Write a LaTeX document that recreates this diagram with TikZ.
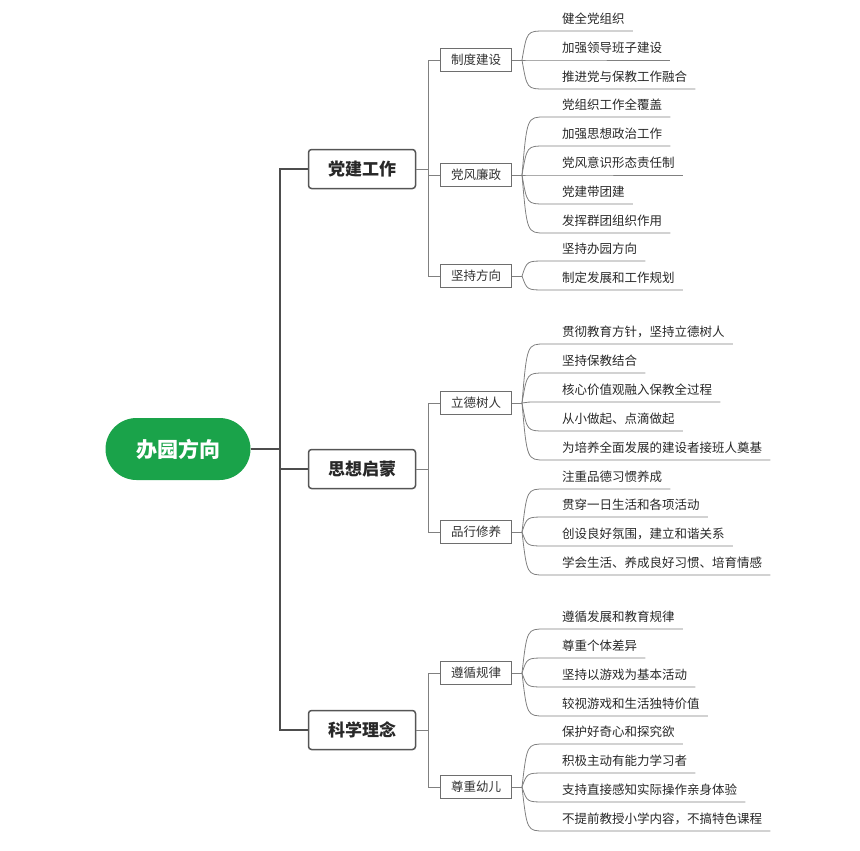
\documentclass[tikz,border=0pt]{standalone}
\usepackage{fontspec}
\setmainfont{Noto Sans CJK SC}
\begin{document}
\begin{tikzpicture}[x=1pt,y=-1pt,
  rootbox/.style={fill=green!60!black!90!cyan!70, fill={rgb,255:red,26;green,163;blue,74}, rounded corners=31pt, minimum width=145pt, minimum height=62pt, text=white, font=\fontsize{21}{24}\selectfont\bfseries},
  lone/.style={draw={rgb,255:red,85;green,85;blue,85}, line width=1.5pt, rounded corners=3pt, fill=white, minimum width=107pt, minimum height=39pt, font=\fontsize{17}{20}\selectfont\bfseries, text={rgb,255:red,40;green,40;blue,40}},
  ltwo/.style={draw={rgb,255:red,110;green,110;blue,110}, line width=0.8pt, fill=white, minimum width=71pt, minimum height=23pt, inner sep=1pt, font=\fontsize{12.5}{14}\selectfont, text={rgb,255:red,50;green,50;blue,50}},
  leaf/.style={anchor=west, inner sep=0pt, font=\fontsize{12.5}{14}\selectfont, text={rgb,255:red,40;green,40;blue,40}},
  thick1/.style={draw={rgb,255:red,77;green,77;blue,77}, line width=2.5pt},
  thin1/.style={draw={rgb,255:red,128;green,128;blue,128}, line width=0.8pt}]
\useasboundingbox (0,0) rectangle (860,851);
\newcommand\leafitem[4]{%
  \node[leaf] (#1) at (562,#3) {#4};
  \coordinate (#1-u) at (0,#3+12);
  \draw[thin1] (522,#2) .. controls (527,#3+12) .. (545,#3+12) -- ([xshift=8pt]#1.east |- #1-u);}
\node[rootbox] (root) at (178,449) {办园方向};
\node[lone] (a) at (362,169) {党建工作};
\node[lone] (b) at (362,469) {思想启蒙};
\node[lone] (c) at (362,730) {科学理念};
\foreach \n in {a,b,c}{\draw[thick1] (root.east) -- (280,449) |- (\n.west);}
\node[ltwo] (a1) at (476,60) {制度建设};
\node[ltwo] (a2) at (476,175) {党风廉政};
\node[ltwo] (a3) at (476,276) {坚持方向};
\node[ltwo] (b1) at (476,403) {立德树人};
\node[ltwo] (b2) at (476,532) {品行修养};
\node[ltwo] (c1) at (476,673) {遵循规律};
\node[ltwo] (c2) at (476,787) {尊重幼儿};
\foreach \p/\k in {a/a1,a/a2,a/a3,b/b1,b/b2,c/c1,c/c2}{
  \draw[thin1] (\p.east) -- (428,0 |- \p.east) |- (\k.west);
  \draw[thin1] (\k.east) -- ++(10,0);}
\leafitem{a11}{60}{19}{健全党组织}
\leafitem{a12}{60}{48}{加强领导班子建设}
\leafitem{a13}{60}{77}{推进党与保教工作融合}
\leafitem{a21}{175}{105}{党组织工作全覆盖}
\leafitem{a22}{175}{134}{加强思想政治工作}
\leafitem{a23}{175}{163}{党风意识形态责任制}
\leafitem{a24}{175}{192}{党建带团建}
\leafitem{a25}{175}{221}{发挥群团组织作用}
\leafitem{a31}{276}{249}{坚持办园方向}
\leafitem{a32}{276}{278}{制定发展和工作规划}
\leafitem{b11}{403}{332}{贯彻教育方针，坚持立德树人}
\leafitem{b12}{403}{361}{坚持保教结合}
\leafitem{b13}{403}{390}{核心价值观融入保教全过程}
\leafitem{b14}{403}{419}{从小做起、点滴做起}
\leafitem{b15}{403}{448}{为培养全面发展的建设者接班人奠基}
\leafitem{b21}{532}{477}{注重品德习惯养成}
\leafitem{b22}{532}{505}{贯穿一日生活和各项活动}
\leafitem{b23}{532}{534}{创设良好氛围，建立和谐关系}
\leafitem{b24}{532}{563}{学会生活、养成良好习惯、培育情感}
\leafitem{c11}{673}{617}{遵循发展和教育规律}
\leafitem{c12}{673}{646}{尊重个体差异}
\leafitem{c13}{673}{675}{坚持以游戏为基本活动}
\leafitem{c14}{673}{704}{较视游戏和生活独特价值}
\leafitem{c21}{787}{732}{保护好奇心和探究欲}
\leafitem{c22}{787}{761}{积极主动有能力学习者}
\leafitem{c23}{787}{790}{支持直接感知实际操作亲身体验}
\leafitem{c24}{787}{819}{不提前教授小学内容，不搞特色课程}
\end{tikzpicture}
\end{document}
